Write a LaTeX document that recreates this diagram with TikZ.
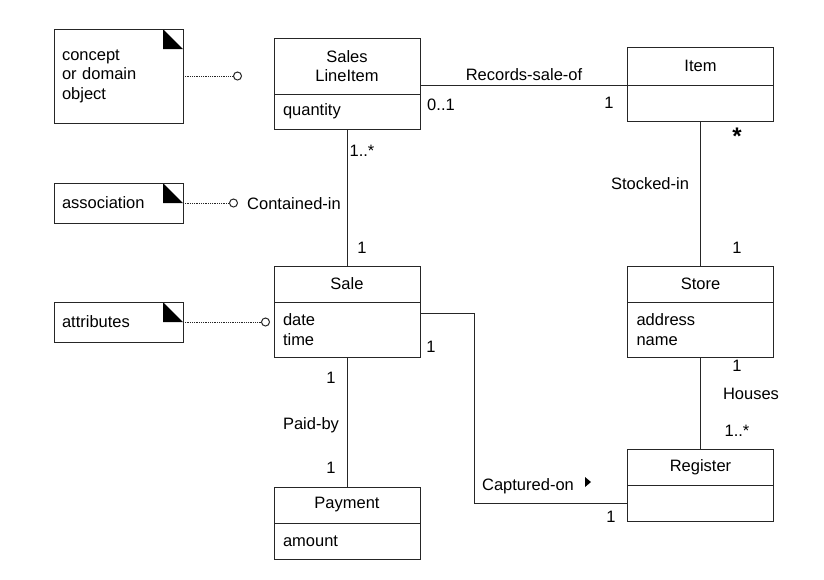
\documentclass[tikz,border=0pt]{standalone}
\usepackage{fontspec}
\setmainfont{Liberation Sans}
\usetikzlibrary{positioning,arrows.meta}

\begin{document}
\begin{tikzpicture}[x=1pt,y=-1pt,line width=1pt,draw=black!85,
                    font=\fontsize{16.5}{19.5}\selectfont,
                    classhead/.style={draw,minimum width=146pt,align=center,inner sep=0pt,outer sep=0pt},
                    classbody/.style={draw,minimum width=146pt,text width=128pt,inner xsep=9pt,inner ysep=0pt,outer sep=0pt,align=left},
                    note/.style={draw,minimum width=129pt,text width=113pt,inner xsep=8pt,outer sep=0pt,align=left,
                      path picture={\fill ([xshift=-20pt]path picture bounding box.north east) -- ++(0,-20pt) -- ++(20pt,0) -- cycle;}},
                    link/.style={densely dotted,line width=0.8pt,-{Circle[open,length=9pt,width=9pt,line width=1pt,sep=0pt]}},
                    mult/.style={inner sep=1pt}]
\useasboundingbox (0,0) rectangle (824,579);

% notes
\node[note,minimum height=94pt] (concept) at (118.5,76) {concept\\or domain\\object};
\node[note,minimum height=40pt] (assoc) at (118.5,203) {association};
\node[note,minimum height=40pt] (attr) at (118.5,322) {attributes};

% classes
\node[classhead,minimum height=56pt] (sli) at (347,66) {Sales\\LineItem};
\node[classbody,minimum height=35pt,below=0pt of sli] (sliB) {quantity};
\node[classhead,minimum height=38pt] (item) at (700.5,66) {Item};
\node[classbody,minimum height=36pt,below=0pt of item] (itemB) {};
\node[classhead,minimum height=36pt] (sale) at (347,284) {Sale};
\node[classbody,minimum height=55pt,below=0pt of sale] (saleB) {date\\time};
\node[classhead,minimum height=36pt] (store) at (700.5,284) {Store};
\node[classbody,minimum height=55pt,below=0pt of store] (storeB) {address\\name};
\node[classhead,minimum height=36pt] (pay) at (347,505) {Payment};
\node[classbody,minimum height=36pt,below=0pt of pay] (payB) {amount};
\node[classhead,minimum height=36pt] (reg) at (700.5,467) {Register};
\node[classbody,minimum height=36pt,below=0pt of reg] (regB) {};

% note links
\coordinate (dotA) at (242,76);
\coordinate (dotB) at (238,203);
\coordinate (dotC) at (270,322);
\draw[link] (concept.east) -- (dotA);
\draw[link] (assoc.east) -- (dotB);
\draw[link] (attr.east) -- (dotC);

% associations
\draw (item.south west -| sli.east) -- (item.south west);
\draw (sliB.south) -- (sale.north);
\draw (itemB.south) -- (store.north);
\draw (storeB.south) -- (reg.north);
\draw (saleB.south) -- (pay.north);
\draw ([yshift=-11pt]saleB.north east) -- ++(54,0) |- (regB.west);

% labels
\node (recs) at (524,75) {Records-sale-of};
\node[mult] (m1) at (441,105) {0..1};
\node[mult] (m2) at (609,103) {1};
\node[mult] (m3) at (362,151) {1..*};
\node[mult] (m4) at (362,248) {1};
\node (contained) at (294,204) {Contained-in};
\node[mult,font=\fontsize{24}{24}\selectfont\bfseries] (m5) at (737,136) {*};
\node[mult] (m6) at (737,248) {1};
\node (stocked) at (650,184) {Stocked-in};
\node[mult] (m7) at (737,366) {1};
\node (houses) at (751,394) {Houses};
\node[mult] (m8) at (737,431) {1..*};
\node[mult] (m9) at (331,378) {1};
\node (paid) at (311,425) {Paid-by};
\node[mult] (m10) at (331,468) {1};
\node[mult] (m11) at (431,347) {1};
\node (captured) at (528,486) {Captured-on};
\fill (585,477) -- (591,482) -- (585,487) -- cycle;
\node[mult] (m12) at (611,517) {1};
\end{tikzpicture}
\end{document}
